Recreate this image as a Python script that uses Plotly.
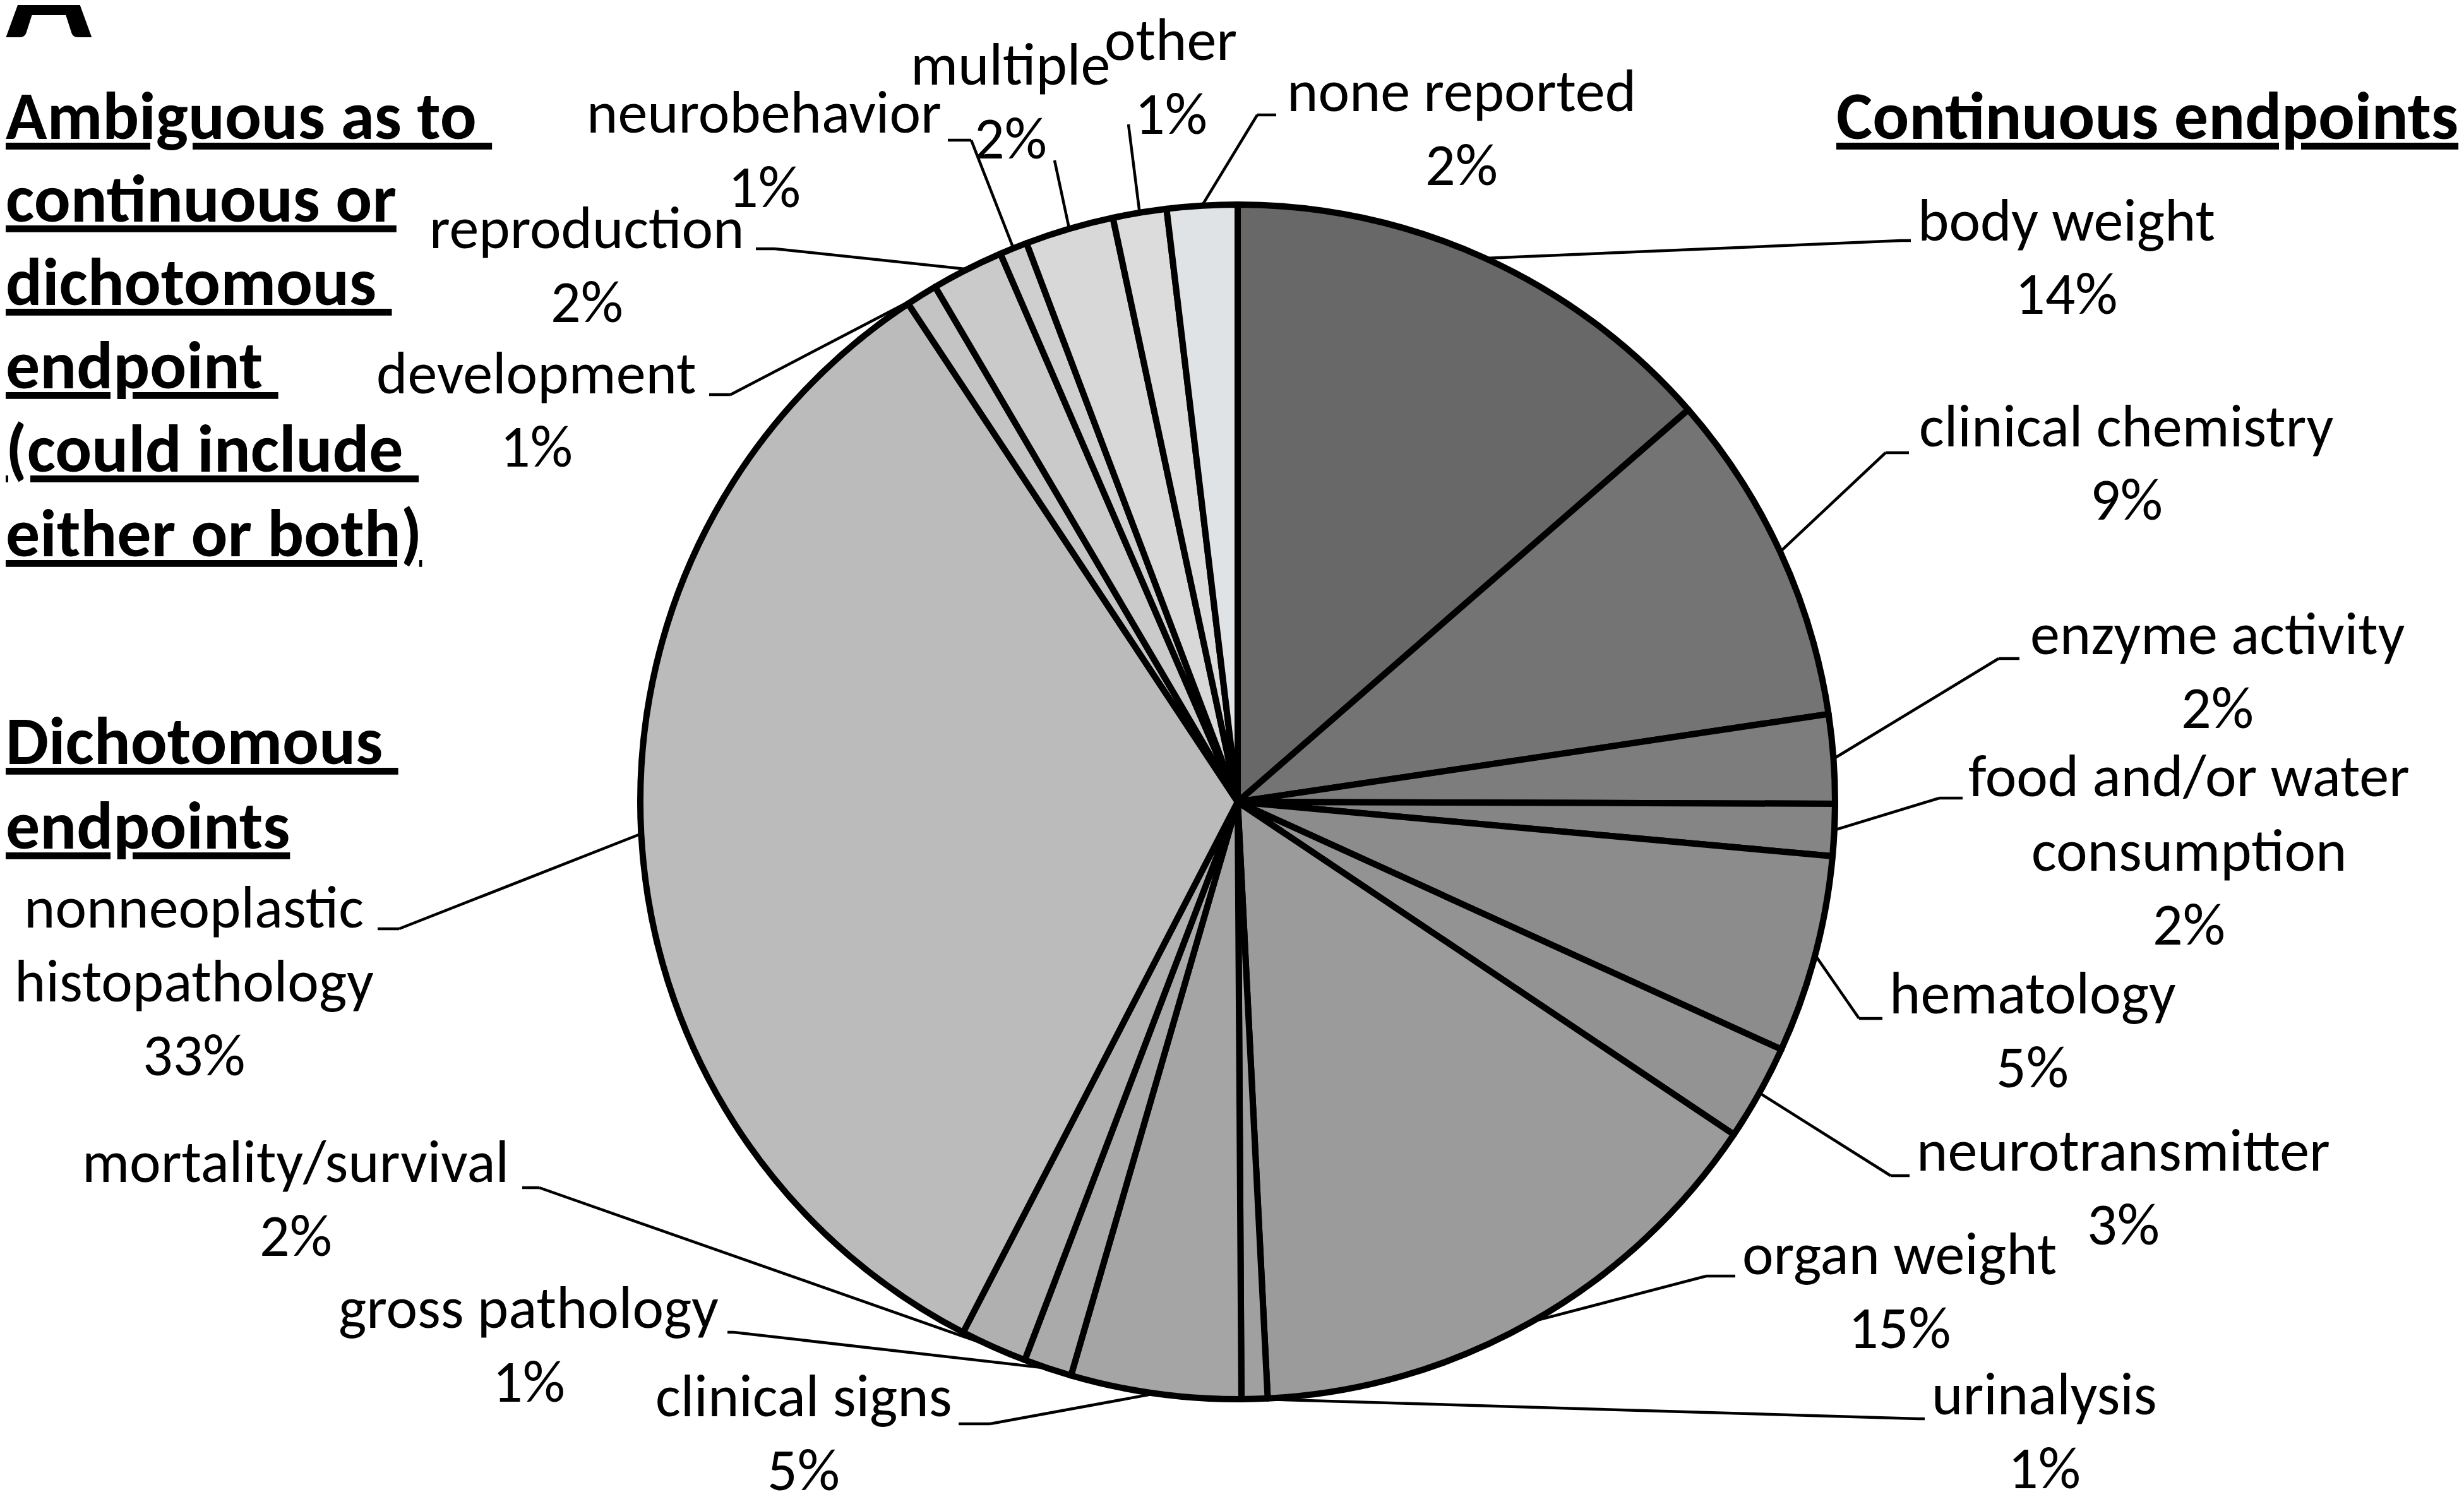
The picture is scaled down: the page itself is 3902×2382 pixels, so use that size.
import math
import plotly.graph_objects as go

W, H = 3902, 2382

# ---------------- data ----------------
categories = ["body weight", "clinical chemistry", "enzyme activity",
              "food and/or water consumption", "hematology", "neurotransmitter",
              "organ weight", "urinalysis", "clinical signs", "gross pathology",
              "mortality/survival", "nonneoplastic histopathology", "development",
              "reproduction", "neurobehavior", "multiple", "other", "none reported"]
shares = [13.6, 9.05, 2.4, 1.4, 5.35, 2.6, 14.8, 0.7, 4.6, 1.3, 1.8, 33.1,
          0.85, 1.95, 0.75, 2.4, 1.45, 1.9]
pct_labels = ["14%", "9%", "2%", "2%", "5%", "3%", "15%", "1%", "5%", "1%", "2%",
              "33%", "1%", "2%", "1%", "2%", "1%", "2%"]
label_lines = [["body weight"], ["clinical chemistry"], ["enzyme activity"],
               ["food and/or water", "consumption"], ["hematology"], ["neurotransmitter"],
               ["organ weight"], ["urinalysis"], ["clinical signs"], ["gross pathology"],
               ["mortality/survival"], ["nonneoplastic", "histopathology"], ["development"],
               ["reproduction"], ["neurobehavior"], ["multiple"], ["other"], ["none reported"]]
colors = ["#686868", "#747474", "#7d7d7d", "#858585", "#8c8c8c", "#939393",
          "#9b9b9b", "#a0a0a0", "#a5a5a5", "#aaaaaa", "#b0b0b0", "#bbbbbb",
          "#c4c4c4", "#cacaca", "#cfcfcf", "#d8d8d8", "#dcdcdc", "#e0e3e6"]

# ---------------- layout (pixel positions) ----------------
PIE_X0, PIE_X1 = 1006, 2898
PIE_Y0, PIE_Y1 = 316, 2208          # top, bottom in pixels
LINE_H = 117
FONT = "Calibri, Carlito, Lato, sans-serif"
FS = 94
HFS = 108

# label center x, first-line center y (px)
label_pos = [(3264, 340), (3359, 666), (3503, 995), (3458, 1221), (3210, 1564),
             (3354, 1813), (3000, 1977), (3229, 2199), (1264, 2202), (829, 2062),
             (460, 1831), (299, 1428), (841, 582), (921, 352), (1202, 170),
             (1592, 94), (1846, 54), (2306, 136)]
# leader knee and end points (px)
leader_knee = [(3003, 373), (2978, 709), (3157, 1035), (3063, 1256), (2936, 1605),
               (2986, 1854), (2694, 2013), (3030, 2239), (1560, 2247), (1154, 2102),
               (846, 1873), (624, 1463), (1149, 617), (1219, 386), (1530, 214),
               (1662, 246), (1779, 189), (1983, 174)]
leader_end = [(3018, 373), (3015, 709), (3190, 1035), (3100, 1256), (2973, 1605),
              (3016, 1854), (2740, 2013), (3040, 2239), (1510, 2247), (1144, 2102),
              (819, 1873), (590, 1463), (1115, 617), (1189, 386), (1493, 214),
              (1662, 246), (1779, 189), (2013, 174)]


def px(x):
    return x / W


def py(y):
    return 1 - y / H


fig = go.Figure()
fig.add_trace(go.Pie(
    labels=categories, values=shares, sort=False, direction="clockwise", rotation=0,
    marker=dict(colors=colors, line=dict(color="black", width=10)),
    textinfo="none", hoverinfo="label+percent", showlegend=False,
    domain=dict(x=[px(PIE_X0), px(PIE_X1)], y=[py(PIE_Y1), py(PIE_Y0)]),
))

cx = (PIE_X0 + PIE_X1) / 2
cy = (PIE_Y0 + PIE_Y1) / 2
R = (PIE_X1 - PIE_X0) / 2
total = sum(shares)

annotations = []
shapes = []
cum = 0.0
for i, s in enumerate(shares):
    theta = 2 * math.pi * (cum + s / 2) / total
    cum += s
    ex = cx + R * math.sin(theta)
    ey = cy - R * math.cos(theta)
    kx, ky = leader_knee[i]
    tx, ty = leader_end[i]
    shapes.append(dict(type="line", xref="paper", yref="paper",
                       x0=px(ex), y0=py(ey), x1=px(kx), y1=py(ky),
                       line=dict(color="black", width=4.5)))
    if (kx, ky) != (tx, ty):
        shapes.append(dict(type="line", xref="paper", yref="paper",
                           x0=px(kx), y0=py(ky), x1=px(tx), y1=py(ty),
                           line=dict(color="black", width=4.5)))
    lx, ly = label_pos[i]
    for j, line in enumerate(label_lines[i] + [pct_labels[i]]):
        annotations.append(dict(text=line, x=px(lx), y=py(ly + j * LINE_H),
                                xref="paper", yref="paper", showarrow=False,
                                xanchor="center", yanchor="middle", borderpad=0,
                                font=dict(family=FONT, size=FS, color="black")))

# headings
left_heading = ["Ambiguous as to\u00a0", "continuous or", "dichotomous\u00a0",
                "endpoint\u00a0", "(could include\u00a0", "either or both)"]
left_y = [175, 306, 438, 570, 702, 836]
for t, y in zip(left_heading, left_y):
    annotations.append(dict(text="<b><u>" + t + "</u></b>", x=px(0), y=py(y),
                            xref="paper", yref="paper", showarrow=False,
                            xanchor="left", yanchor="middle", borderpad=0,
                            font=dict(family=FONT, size=HFS, color="black")))
for t, y in zip(["Dichotomous\u00a0", "endpoints"], [1165, 1299]):
    annotations.append(dict(text="<b><u>" + t + "</u></b>", x=px(0), y=py(y),
                            xref="paper", yref="paper", showarrow=False,
                            xanchor="left", yanchor="middle", borderpad=0,
                            font=dict(family=FONT, size=HFS, color="black")))
annotations.append(dict(text="<b><u>Continuous endpoints</u></b>", x=px(3886), y=py(175),
                        xref="paper", yref="paper", showarrow=False,
                        xanchor="right", yanchor="middle", borderpad=0,
                        font=dict(family=FONT, size=HFS, color="black")))
# panel letter (cut off at the top, as in the original figure)
annotations.append(dict(text="<b>A</b>", x=px(0), y=py(112), xref="paper", yref="paper",
                        showarrow=False, xanchor="left", yanchor="bottom", borderpad=0,
                        font=dict(family=FONT, size=225, color="black")))

fig.update_layout(
    width=W, height=H, margin=dict(l=0, r=0, t=0, b=0),
    paper_bgcolor="white", plot_bgcolor="white",
    annotations=annotations, shapes=shapes,
)

fig.write_html("out.html")
